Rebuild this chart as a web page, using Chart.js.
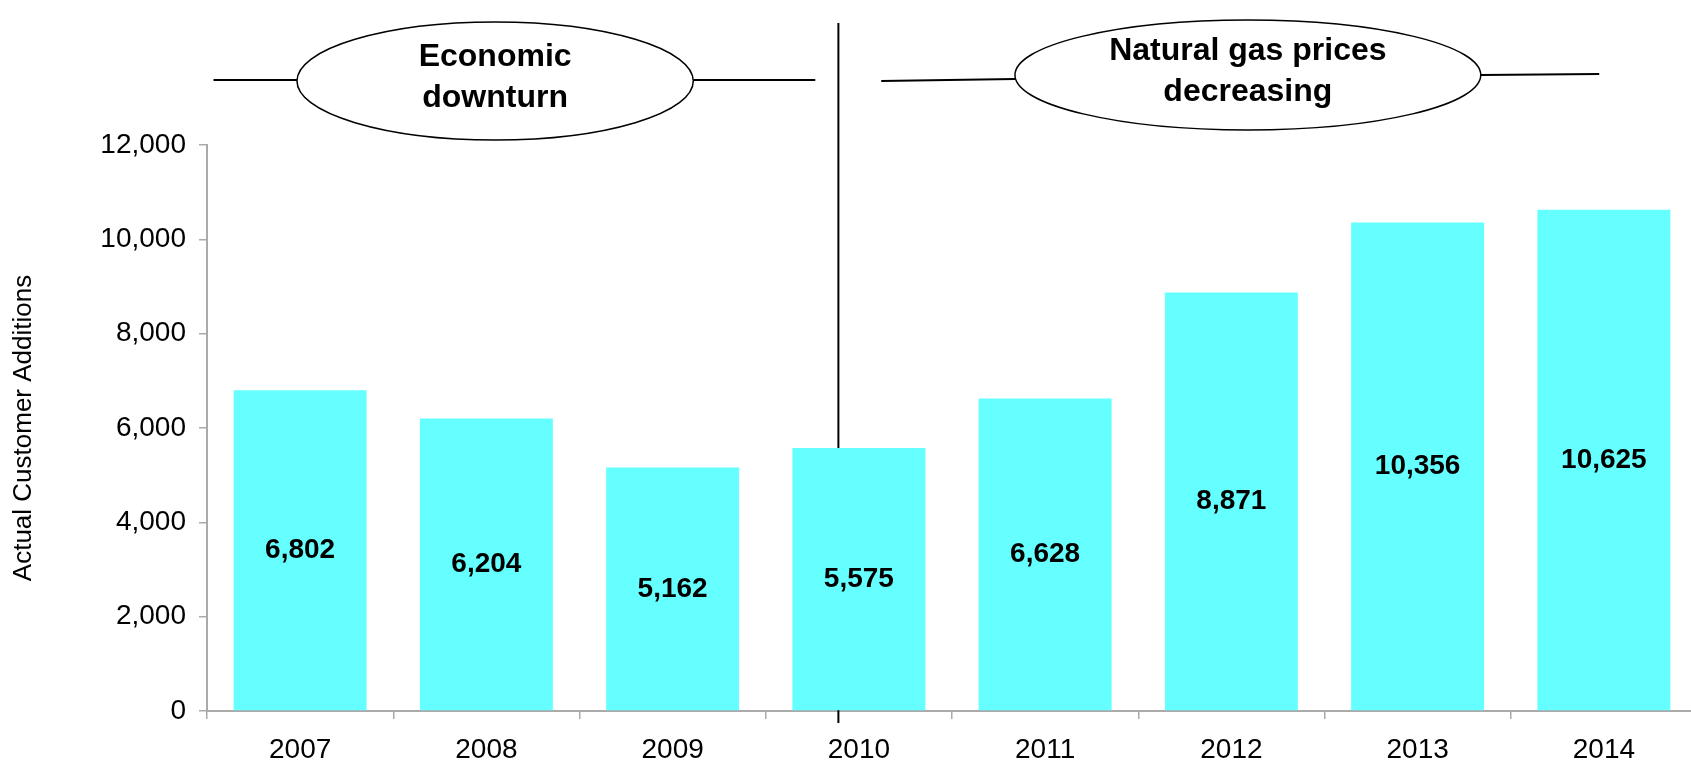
<!DOCTYPE html>
<html>
<head>
<meta charset="utf-8">
<title>Actual Customer Additions</title>
<script src="https://cdn.jsdelivr.net/npm/chart.js@4/dist/chart.umd.min.js"></script>
<style>
    html, body { margin: 0; padding: 0; background: #fff; overflow: hidden; }
    #wrap { width: 1700px; height: 765px; }
</style>
</head>
<body>
<div id="wrap">
    <canvas id="customerChart" width="1700" height="765"></canvas>
</div>
<script>
const years = ["2007", "2008", "2009", "2010", "2011", "2012", "2013", "2014"];
const additions = [6802, 6204, 5162, 5575, 6628, 8871, 10356, 10625];
const yMax = 12000;
const yStep = 2000;
const axisTitle = "Actual Customer Additions";

// the two periods drawn above the bars (x in category index units)
const periodLabels = [["Economic", "downturn"], ["Natural gas prices", "decreasing"]];
const periodSplit = 2.89;

const fontFamily = "'Liberation Sans', Arial, Helvetica, sans-serif";
const axisGray = "#aaaaaa";

function fmt(v) {
    return Number(v).toLocaleString("en-US");
}

// value written in the middle of each bar
const barLabels = {
    id: "barLabels",
    afterDatasetsDraw(chart) {
        let ctx = chart.ctx;
        let meta = chart.getDatasetMeta(0);
        ctx.save();
        ctx.font = "bold 28px " + fontFamily;
        ctx.fillStyle = "#000";
        ctx.textAlign = "center";
        ctx.textBaseline = "middle";
        meta.data.forEach((bar, i) => {
            ctx.fillText(fmt(additions[i]), bar.x, (bar.y + bar.base) / 2);
        });
        ctx.restore();
    }
};

// vertical divider, behind the bars
const divider = {
    id: "divider",
    beforeDatasetsDraw(chart) {
        let ctx = chart.ctx;
        let x = chart.scales.x.getPixelForValue(periodSplit);
        ctx.save();
        ctx.strokeStyle = "#000";
        ctx.lineWidth = 2;
        ctx.beginPath();
        ctx.moveTo(x, 23);
        ctx.lineTo(x, chart.chartArea.bottom + 12);
        ctx.stroke();
        ctx.restore();
    }
};

function drawBubble(ctx, xs, cx, cy, rx, ry, lines, lineY) {
    ctx.strokeStyle = "#000";
    ctx.lineWidth = 2;
    ctx.beginPath();
    ctx.moveTo(xs(lineY[0]), lineY[1]);
    ctx.lineTo(cx - rx, lineY[2]);
    ctx.moveTo(cx + rx, lineY[3]);
    ctx.lineTo(xs(lineY[4]), lineY[5]);
    ctx.stroke();

    ctx.beginPath();
    ctx.ellipse(cx, cy, rx, ry, 0, 0, Math.PI * 2);
    ctx.fillStyle = "#fff";
    ctx.fill();
    ctx.lineWidth = 1.5;
    ctx.stroke();

    ctx.fillStyle = "#000";
    ctx.font = "bold 32px " + fontFamily;
    ctx.textAlign = "center";
    ctx.textBaseline = "middle";
    ctx.fillText(lines[0], cx, cy - 24);
    ctx.fillText(lines[1], cx, cy + 17);
}

const periods = {
    id: "periods",
    afterDraw(chart) {
        let ctx = chart.ctx;
        let xs = v => chart.scales.x.getPixelForValue(v);
        ctx.save();
        // left bubble: edges at index -0.017 and 2.111
        let l0 = xs(-0.017), l1 = xs(2.111);
        drawBubble(ctx, xs, (l0 + l1) / 2, 81, (l1 - l0) / 2, 59, periodLabels[0],
            [-0.465, 80, 80, 80, 2.766, 80]);
        // right bubble: edges at index 3.838 and 6.339
        let r0 = xs(3.838), r1 = xs(6.339);
        drawBubble(ctx, xs, (r0 + r1) / 2, 75, (r1 - r0) / 2, 55, periodLabels[1],
            [3.12, 81, 79, 75, 6.975, 74]);
        ctx.restore();
    }
};

new Chart(document.getElementById("customerChart"), {
    type: "bar",
    data: {
        labels: years,
        datasets: [{
            data: additions,
            backgroundColor: "#66ffff",
            borderWidth: 0,
            barPercentage: 0.714,
            categoryPercentage: 1
        }]
    },
    options: {
        responsive: false,
        animation: false,
        layout: { padding: { top: 145, right: 3, left: 0, bottom: 0 } },
        plugins: {
            legend: { display: false },
            tooltip: { enabled: false }
        },
        scales: {
            x: {
                grid: {
                    display: true,
                    drawOnChartArea: false,
                    drawTicks: true,
                    tickLength: 8,
                    color: axisGray,
                    lineWidth: 1.5
                },
                border: { display: true, color: axisGray, width: 2 },
                ticks: {
                    color: "#000",
                    padding: 14,
                    font: { family: fontFamily, size: 28 }
                },
                afterFit(scale) { scale.height = 54; }
            },
            y: {
                min: 0,
                max: yMax,
                grid: {
                    display: true,
                    drawOnChartArea: false,
                    drawTicks: true,
                    tickLength: 8,
                    color: axisGray,
                    lineWidth: 1.5
                },
                border: { display: true, color: axisGray, width: 2 },
                ticks: {
                    stepSize: yStep,
                    color: "#000",
                    padding: 13,
                    font: { family: fontFamily, size: 28 },
                    callback: v => fmt(v)
                },
                title: {
                    display: true,
                    text: axisTitle,
                    color: "#000",
                    padding: { top: 8, bottom: 0 },
                    font: { family: fontFamily, size: 26 }
                },
                afterFit(scale) { scale.width = 207; }
            }
        }
    },
    plugins: [divider, barLabels, periods]
});
</script>
</body>
</html>
